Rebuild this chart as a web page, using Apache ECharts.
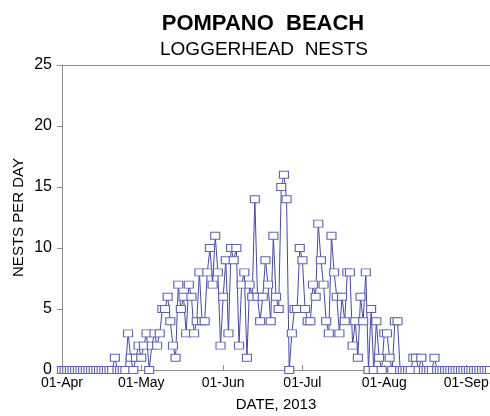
<!DOCTYPE html>
<html>
<head>
<meta charset="utf-8">
<script src="https://cdn.jsdelivr.net/npm/echarts@6/dist/echarts.min.js"></script>
<style>
  html, body { margin: 0; padding: 0; background: #ffffff; }
  #chart { width: 490px; height: 416px; }
</style>
</head>
<body>
<div id="chart"></div>
<script>
// Season window: 01-Apr-2013 through 10-Sep-2013, one entry per day
var monthNames = ['Apr', 'May', 'Jun', 'Jul', 'Aug', 'Sep'];
var monthDays  = [30, 31, 30, 31, 31, 10];

// Nests counted per day, in date order
var nests = [
  0, 0, 0, 0, 0, 0, 0, 0, 0, 0,
  0, 0, 0, 0, 0, 0, 0, 0, 0, 0,
  1, 0, 0, 0, 0, 3, 1, 0, 1, 2,
  1, 2, 3, 0, 2, 3, 2, 3, 5, 5,
  6, 4, 2, 1, 7, 5, 6, 3, 7, 6,
  3, 4, 8, 4, 4, 8, 10, 7, 11, 8,
  2, 6, 9, 3, 10, 9, 10, 2, 7, 8,
  1, 7, 6, 14, 6, 4, 6, 9, 7, 4,
  11, 6, 5, 15, 16, 14, 0, 3, 5, 5,
  10, 9, 5, 4, 4, 7, 6, 12, 9, 7,
  4, 3, 11, 8, 6, 3, 6, 4, 8, 8,
  2, 4, 1, 6, 4, 8, 0, 5, 0, 4,
  1, 0, 3, 3, 1, 0, 4, 4, 0, 0,
  0, 0, 0, 1, 1, 0, 1, 0, 0, 0,
  0, 1, 0, 0, 0, 0, 0, 0, 0, 0,
  0, 0, 0, 0, 0, 0, 0, 0, 0, 0,
  0, 0, 0
];

// Y axis ticks
var yTicks = [0, 5, 10, 15, 20, 25];

// Day labels in DD-Mon form
var days = [];
for (var m = 0; m < monthNames.length; m++) {
  for (var d = 1; d <= monthDays[m]; d++) {
    days.push((d < 10 ? '0' : '') + d + '-' + monthNames[m]);
  }
}

function isMonthStart(index, value) {
  return String(value || days[index]).indexOf('01-') === 0;
}

var FONT = '"Liberation Sans", Arial, Helvetica, sans-serif';
var chart = echarts.init(document.getElementById('chart'), null, { renderer: 'canvas' });

chart.setOption({
  animation: false,
  backgroundColor: '#ffffff',
  title: [
    {
      text: 'POMPANO  BEACH',
      left: 258, top: 8, textAlign: 'center',
      textStyle: { fontFamily: FONT, fontSize: 22, fontWeight: 'bold', color: '#000000' }
    },
    {
      text: 'LOGGERHEAD  NESTS',
      left: 259, top: 35, textAlign: 'center',
      textStyle: { fontFamily: FONT, fontSize: 19, fontWeight: 'normal', color: '#000000' }
    }
  ],
  grid: { left: 62, right: 0, top: 65, bottom: 46, outerBoundsMode: 'none' },
  xAxis: [
    {
      type: 'category',
      data: days,
      boundaryGap: false,
      name: 'DATE, 2013',
      nameLocation: 'middle',
      nameGap: 27,
      nameTextStyle: { fontFamily: FONT, fontSize: 15, color: '#000000' },
      axisLine: { lineStyle: { color: '#8c8c8c', width: 1 } },
      axisTick: { show: true, inside: true, length: 5, interval: isMonthStart, lineStyle: { color: '#8c8c8c' } },
      axisLabel: { interval: isMonthStart, fontFamily: FONT, fontSize: 14, color: '#000000', margin: 6 },
      splitLine: { show: false }
    },
    {
      type: 'category',
      data: days,
      boundaryGap: false,
      position: 'top',
      axisLine: { show: true, lineStyle: { color: '#8c8c8c', width: 1 } },
      axisTick: { show: false },
      axisLabel: { show: false },
      splitLine: { show: false }
    }
  ],
  yAxis: {
    type: 'value',
    min: yTicks[0],
    max: yTicks[yTicks.length - 1],
    interval: 5,
    name: 'NESTS PER DAY',
    nameLocation: 'middle',
    nameRotate: 90,
    nameGap: 36,
    nameMoveOverlap: false,
    nameTextStyle: { fontFamily: FONT, fontSize: 15, color: '#000000' },
    axisLine: { show: true, lineStyle: { color: '#8c8c8c', width: 1 } },
    axisTick: { show: true, inside: false, length: 5, lineStyle: { color: '#8c8c8c' } },
    axisLabel: { fontFamily: FONT, fontSize: 16, color: '#000000', margin: 10 },
    splitLine: { show: false }
  },
  series: [
    {
      type: 'line',
      data: nests,
      xAxisIndex: 0,
      symbol: 'rect',
      symbolSize: [9, 7],
      showAllSymbol: true,
      lineStyle: { color: '#4848a6', width: 1 },
      itemStyle: { color: '#ffffff', borderColor: '#6262ae', borderWidth: 1 },
      emphasis: { disabled: true }
    }
  ]
});
</script>
</body>
</html>
